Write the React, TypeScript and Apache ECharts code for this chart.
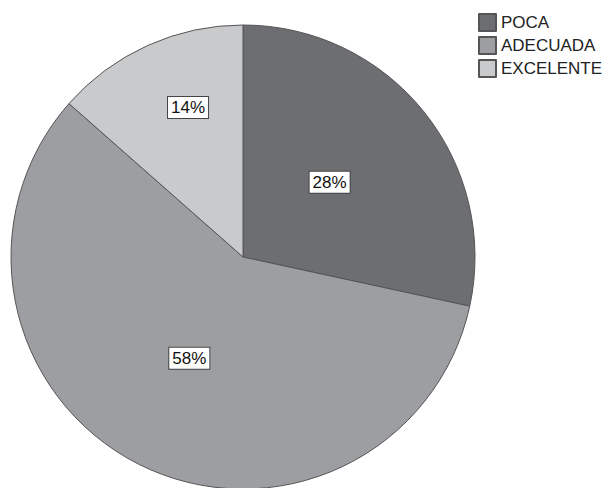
import React, { useEffect, useRef } from "react";
import * as echarts from "echarts";

const categories = ["POCA", "ADECUADA", "EXCELENTE"];
const values = [28.4, 58.1, 13.5];
const colors = ["#6d6e71", "#9d9ea1", "#c9cacc"];

export default function App() {
  const ref = useRef<HTMLDivElement>(null);
  useEffect(() => {
    if (!ref.current) return;
    const chart = echarts.init(ref.current, undefined, { renderer: "svg" });
    const total = values.reduce((a, b) => a + b, 0);
    chart.setOption({
      animation: false,
      backgroundColor: "#ffffff",
      legend: {
        orient: "vertical",
        left: 473,
        top: 8,
        itemWidth: 17,
        itemHeight: 17,
        itemGap: 4,
        icon: "rect",
        textStyle: { fontSize: 17, color: "#222", fontFamily: "Liberation Sans" },
        data: categories,
      },
      series: [
        {
          type: "pie",
          center: [243, 257],
          radius: 232,
          startAngle: 90,
          clockwise: true,
          avoidLabelOverlap: false,
          itemStyle: { borderColor: "#555", borderWidth: 1 },
          emphasis: { disabled: true },
          label: {
            show: true,
            position: "inside",
            formatter: (p: any) => Math.round((p.value / total) * 100) + "%",
            fontSize: 17,
            fontFamily: "Liberation Sans",
            color: "#111",
            backgroundColor: "#ffffff",
            borderColor: "#444",
            borderWidth: 1,
            padding: [3, 3, 1, 3],
          },
          labelLayout: (params: any) => {
            if (params.dataIndex === 2) return { dx: -6, dy: -41 };
            if (params.dataIndex === 1) return { dy: -5 };
            if (params.dataIndex === 0) return { dx: -6 };
            return {};
          },
          data: categories.map((c, i) => ({
            name: c,
            value: values[i],
            itemStyle: { color: colors[i] },
          })),
        },
      ],
    });
    return () => chart.dispose();
  }, []);
  return (
    <div
      ref={ref}
      style={{ position: "absolute", left: 0, top: 0, width: 614, height: 488 }}
    />
  );
}
